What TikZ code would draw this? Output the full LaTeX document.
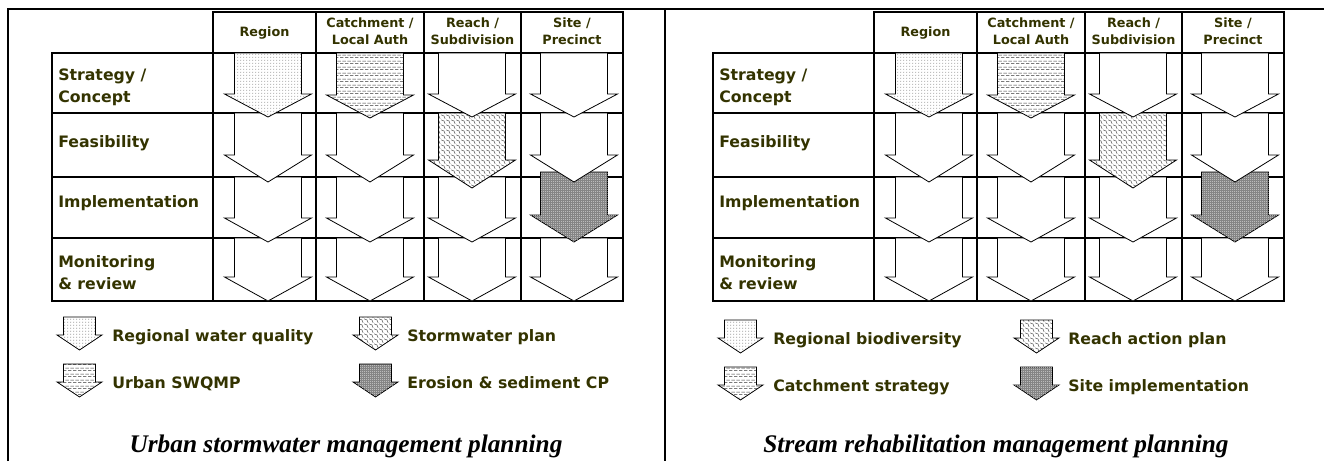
\documentclass[tikz,border=0pt]{standalone}
\usepackage{fontspec}
\setmainfont{Liberation Serif}
\newfontfamily\keyfont{DejaVu Sans}
\usetikzlibrary{patterns}
\definecolor{labelolive}{RGB}{51,51,0}

\pgfdeclarepatternformonly{finedots}{\pgfpointorigin}{\pgfpoint{2.2pt}{2.2pt}}{\pgfpoint{2.2pt}{2.2pt}}{%
  \pgfpathcircle{\pgfpoint{0.6pt}{0.6pt}}{0.35pt}\pgfusepath{fill}}
\pgfdeclarepatternformonly{darkdots}{\pgfpointorigin}{\pgfpoint{1.6pt}{1.6pt}}{\pgfpoint{1.6pt}{1.6pt}}{%
  \pgfpathcircle{\pgfpoint{0.5pt}{0.5pt}}{0.38pt}\pgfusepath{fill}}
\pgfdeclarepatternformonly{dashrows}{\pgfpointorigin}{\pgfpoint{4pt}{4.5pt}}{\pgfpoint{4pt}{4.5pt}}{%
  \pgfsetlinewidth{0.45pt}
  \pgfpathmoveto{\pgfpoint{0pt}{1.1pt}}\pgfpathlineto{\pgfpoint{2.8pt}{1.1pt}}
  \pgfpathmoveto{\pgfpoint{2pt}{3.35pt}}\pgfpathlineto{\pgfpoint{4pt}{3.35pt}}
  \pgfpathmoveto{\pgfpoint{0pt}{3.35pt}}\pgfpathlineto{\pgfpoint{0.8pt}{3.35pt}}
  \pgfusepath{stroke}}
\pgfdeclarepatternformonly{scales}{\pgfpointorigin}{\pgfpoint{3.4pt}{3.4pt}}{\pgfpoint{3.4pt}{3.4pt}}{%
  \pgfsetlinewidth{0.4pt}
  \pgfpathmoveto{\pgfpoint{0pt}{3.4pt}}
  \pgfpathcurveto{\pgfpoint{2.1pt}{3.4pt}}{\pgfpoint{3.4pt}{2.1pt}}{\pgfpoint{3.4pt}{0pt}}
  \pgfusepath{stroke}}

\tikzset{
  gridline/.style={line width=2pt},
  arrowline/.style={draw=black, line width=0.6pt, fill=white},
  dotfill/.style={preaction={fill=white}, pattern=finedots, pattern color=black!70},
  dashfill/.style={preaction={fill=white}, pattern=dashrows, pattern color=black!80},
  scalefill/.style={preaction={fill=white}, pattern=scales, pattern color=black!70},
  darkfill/.style={fill=black!48, postaction={pattern=darkdots, pattern color=white!85!black}},
  headtext/.style={font=\keyfont\bfseries\fontsize{9.6}{12.8}\selectfont, text=labelolive, align=center, inner sep=0pt},
  rowtext/.style={font=\keyfont\bfseries\fontsize{11.8}{15.8}\selectfont, text=labelolive, align=left, anchor=base west, inner sep=0pt},
  keytext/.style={font=\keyfont\bfseries\fontsize{11.8}{15.8}\selectfont, text=labelolive, anchor=base west, inner sep=0pt},
  titletext/.style={font=\bfseries\itshape\fontsize{19}{22}\selectfont, anchor=base, inner sep=0pt}
}

\newcommand\blockarrow[7][]{%
  \draw[arrowline,#1] (#2-#6,#3) -- (#2+#6,#3) -- (#2+#6,#4) -- (#2+#7,#4)
    -- (#2,#5) -- (#2-#7,#4) -- (#2-#6,#4) -- cycle;}
\newcommand\cellarrow[5][]{\blockarrow[#1]{#2}{#3}{#4}{#5}{33.5}{43.5}}
\newcommand\keyarrow[5][]{\blockarrow[#1]{#2}{#3}{#4}{#5}{16}{22.5}}

\newcommand\planpanel[9]{%
\begin{scope}[shift={(#1,0)}, name prefix=#2-]
  \draw[gridline] (213,12) rectangle (623,53);
  \draw[gridline] (52,53) rectangle (623,301);
  \foreach \y in {113,177,238} {\draw[gridline] (52,\y) -- (623,\y);}
  \foreach \x in {213,316,424,521} {\draw[gridline] (\x,12) -- (\x,301);}
  \node[headtext] (region) at (264.5,33.5) {Region};
  \node[headtext] (catchment) at (370,31) {Catchment /\\Local Auth};
  \node[headtext] (reach) at (472.5,31) {Reach /\\Subdivision};
  \node[headtext] (site) at (572,31) {Site /\\Precinct};
  \node[rowtext] (strategy) at (58,102) {Strategy /\\Concept};
  \node[rowtext] (feasibility) at (58,147) {Feasibility};
  \node[rowtext] (implementation) at (58,207) {Implementation};
  \node[rowtext] (monitoring) at (58,289) {Monitoring\\\& review};
  \foreach \x in {268,370,472,574} {\cellarrow{\x}{238}{277}{301}}
  \foreach \x in {268,370,472} {\cellarrow{\x}{177}{218}{242}}
  \cellarrow[darkfill]{574}{172}{215}{242}
  \foreach \x in {268,370,574} {\cellarrow{\x}{113}{155}{182}}
  \cellarrow[scalefill]{472}{113}{160}{188}
  \foreach \x in {472,574} {\cellarrow{\x}{53}{94}{117}}
  \cellarrow[dotfill]{268}{53}{94}{117}
  \cellarrow[dashfill]{370}{53}{95}{118}
  \keyarrow[dotfill]{79.5}{317+#8}{335+#8}{350+#8}
  \keyarrow[dashfill]{79.5}{364+#8}{382+#8}{397+#8}
  \keyarrow[scalefill]{375.5}{317+#8}{335+#8}{350+#8}
  \keyarrow[darkfill]{375.5}{364+#8}{382+#8}{397+#8}
  \node[keytext] (key1) at (112,341+#8) {#3};
  \node[keytext] (key2) at (112,388+#8) {#4};
  \node[keytext] (key3) at (407,341+#8) {#5};
  \node[keytext] (key4) at (407,388+#8) {#6};
  \node[titletext] (title) at (#9,452) {#7};
\end{scope}}

\begin{document}
\begin{tikzpicture}[x=0.75pt, y=-0.75pt]
  \useasboundingbox (0,0) rectangle (1324,461);
  \draw[gridline] (8,461) -- (8,9) -- (1324,9);
  \draw[gridline] (665,9) -- (665,461);
  \planpanel{0}{urban}{Regional water quality}{Urban SWQMP}{Stormwater plan}{Erosion \& sediment CP}{Urban stormwater management planning}{0}{346}
  \planpanel{661}{stream}{Regional biodiversity}{Catchment strategy}{Reach action plan}{Site implementation}{Stream rehabilitation management planning}{3}{335}
\end{tikzpicture}
\end{document}
